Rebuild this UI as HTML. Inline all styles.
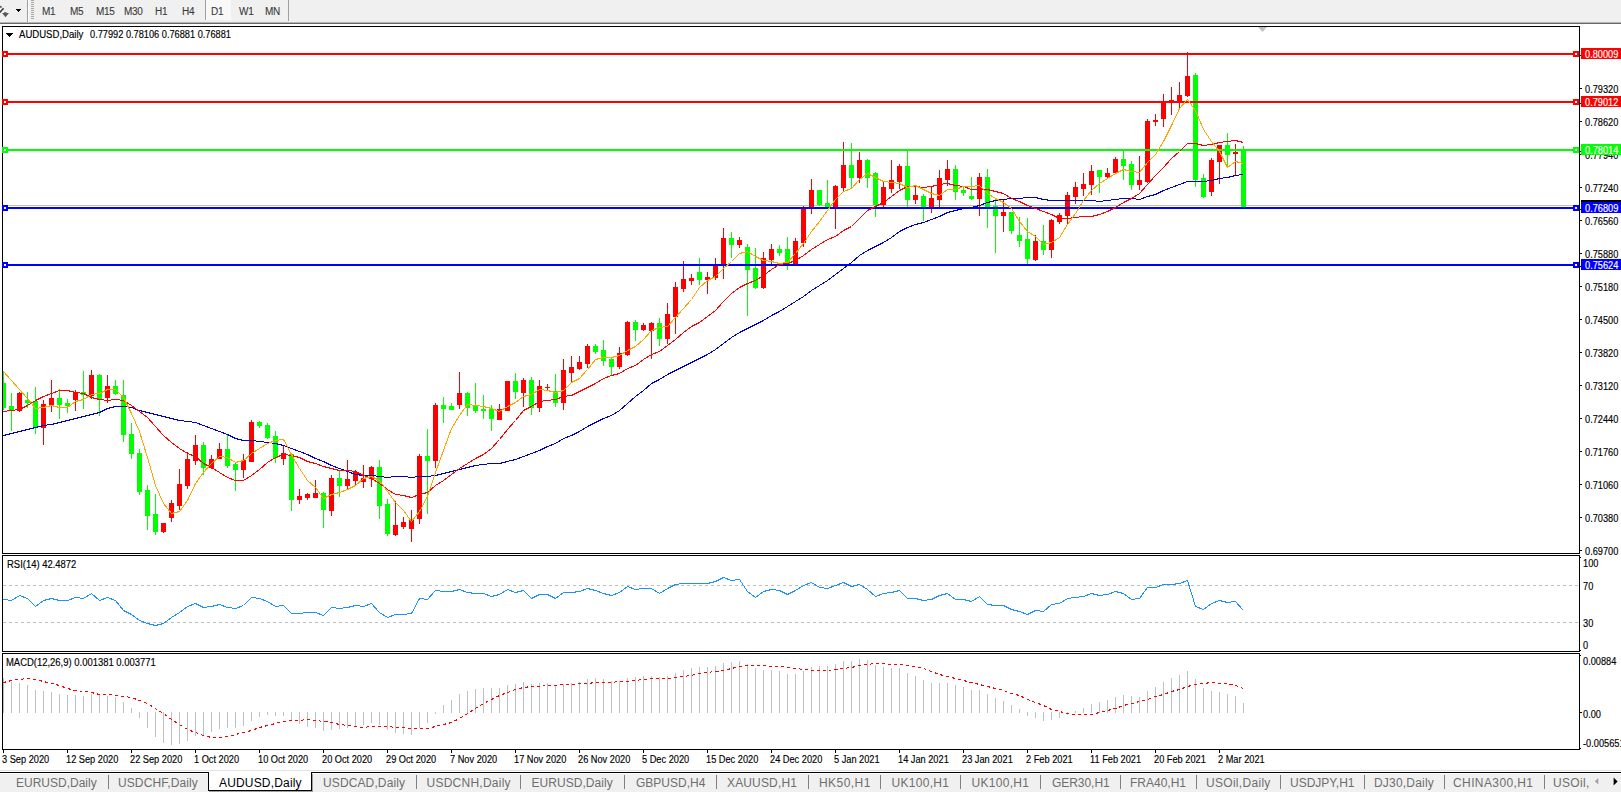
<!DOCTYPE html>
<html><head><meta charset="utf-8"><title>AUDUSD,Daily</title><style>
html,body{margin:0;padding:0;background:#fff;}
body{width:1621px;height:793px;position:relative;overflow:hidden;font-family:"Liberation Sans",sans-serif;}
span{position:absolute;white-space:nowrap;line-height:1;-webkit-text-stroke:0.3px currentColor;}
.tb{font-size:10px;color:#3a3a3a;letter-spacing:-0.3px;-webkit-text-stroke:0.1px currentColor;}
.ct{font-size:10px;color:#000;transform:scaleX(.922);transform-origin:0 0;-webkit-text-stroke:0.15px currentColor;}
.ax{font-size:10px;color:#000;height:12px;line-height:12px;-webkit-text-stroke:0.15px currentColor;transform:scaleX(.922);transform-origin:0 0;}
.lb{position:absolute;left:1581px;width:40px;height:11px;overflow:hidden;}
.tab{font-size:12px;color:#6e6e6e;height:14px;line-height:14px;-webkit-text-stroke:0;}
.tab.act{color:#000;}
</style></head><body>
<svg width="1621" height="793" viewBox="0 0 1621 793" shape-rendering="crispEdges" style="position:absolute;left:0;top:0">
<defs><clipPath id="cm"><rect x="3" y="27" width="1576" height="526"/></clipPath><clipPath id="cr"><rect x="3" y="556" width="1576" height="95"/></clipPath><clipPath id="cd"><rect x="3" y="654" width="1576" height="95"/></clipPath></defs>
<rect x="0" y="0" width="1621" height="22" fill="#f0f0f0"/>
<rect x="0" y="22" width="1621" height="1" fill="#b4b4b4"/>
<rect x="0" y="23" width="1621" height="1" fill="#696969"/>
<rect x="27" y="0" width="1" height="22" fill="#a0a0a0"/><rect x="28" y="0" width="1" height="22" fill="#ffffff"/>
<rect x="31" y="0" width="3" height="1" fill="#a8a8a8"/>
<rect x="31" y="2" width="3" height="1" fill="#a8a8a8"/>
<rect x="31" y="4" width="3" height="1" fill="#a8a8a8"/>
<rect x="31" y="6" width="3" height="1" fill="#a8a8a8"/>
<rect x="31" y="8" width="3" height="1" fill="#a8a8a8"/>
<rect x="31" y="10" width="3" height="1" fill="#a8a8a8"/>
<rect x="31" y="12" width="3" height="1" fill="#a8a8a8"/>
<rect x="31" y="14" width="3" height="1" fill="#a8a8a8"/>
<rect x="31" y="16" width="3" height="1" fill="#a8a8a8"/>
<rect x="31" y="18" width="3" height="1" fill="#a8a8a8"/>
<rect x="205" y="0" width="1" height="20" fill="#a0a0a0"/><rect x="206" y="0" width="25" height="20" fill="#f8f8f8"/>
<rect x="288" y="0" width="1" height="21" fill="#a0a0a0"/>
<g shape-rendering="auto"><path d="M-0.5 12.6 L3.6 8.3" stroke="#3c3c3c" stroke-width="1.6" fill="none"/><path d="M-0.5 6.2 L1.6 7.3" stroke="#3c3c3c" stroke-width="1.4" fill="none"/><path d="M4 12.2 L6.6 12.2 L6.6 13 L9 13 L5.5 17.2 L2 13 L4 13 Z" fill="#5a5a5a"/></g>
<rect x="16" y="9" width="5" height="1" fill="#000"/><rect x="17" y="10" width="3" height="1" fill="#000"/><rect x="18" y="11" width="1" height="1" fill="#000"/>
<rect x="2.5" y="26.5" width="1577" height="527" fill="#fff" stroke="#000" stroke-width="1"/>
<rect x="2.5" y="555.5" width="1577" height="96" fill="#fff" stroke="#000" stroke-width="1"/>
<rect x="2.5" y="653.5" width="1577" height="96" fill="#fff" stroke="#000" stroke-width="1"/>
<path d="M1258 27 L1267 27 L1262.5 32 Z" fill="#c0c0c0" shape-rendering="auto"/>
<g clip-path="url(#cm)">
<rect x="3" y="205" width="1576" height="1" fill="#c0c0c0"/>
<rect x="3" y="372" width="1" height="38" fill="#00ff00"/><rect x="1" y="383" width="5" height="25" fill="#00ff00"/>
<rect x="11" y="393" width="1" height="38" fill="#00ff00"/><rect x="9" y="406" width="5" height="5" fill="#00ff00"/>
<rect x="19" y="392" width="1" height="20" fill="#ff0000"/><rect x="17" y="393" width="5" height="18" fill="#ff0000"/>
<rect x="27" y="392" width="1" height="16" fill="#00ff00"/><rect x="25" y="400" width="5" height="3" fill="#00ff00"/>
<rect x="35" y="387" width="1" height="47" fill="#00ff00"/><rect x="33" y="401" width="5" height="26" fill="#00ff00"/>
<rect x="43" y="400" width="1" height="45" fill="#ff0000"/><rect x="41" y="404" width="5" height="24" fill="#ff0000"/>
<rect x="51" y="380" width="1" height="32" fill="#ff0000"/><rect x="49" y="398" width="5" height="7" fill="#ff0000"/>
<rect x="59" y="389" width="1" height="30" fill="#00ff00"/><rect x="57" y="398" width="5" height="7" fill="#00ff00"/>
<rect x="67" y="399" width="1" height="14" fill="#00ff00"/><rect x="65" y="403" width="5" height="3" fill="#00ff00"/>
<rect x="75" y="390" width="1" height="21" fill="#ff0000"/><rect x="73" y="392" width="5" height="8" fill="#ff0000"/>
<rect x="83" y="371" width="1" height="38" fill="#00ff00"/><rect x="81" y="392" width="5" height="3" fill="#00ff00"/>
<rect x="91" y="370" width="1" height="29" fill="#ff0000"/><rect x="89" y="375" width="5" height="21" fill="#ff0000"/>
<rect x="99" y="374" width="1" height="42" fill="#00ff00"/><rect x="97" y="375" width="5" height="24" fill="#00ff00"/>
<rect x="107" y="375" width="1" height="28" fill="#ff0000"/><rect x="105" y="386" width="5" height="12" fill="#ff0000"/>
<rect x="115" y="380" width="1" height="15" fill="#00ff00"/><rect x="113" y="386" width="5" height="8" fill="#00ff00"/>
<rect x="123" y="380" width="1" height="62" fill="#00ff00"/><rect x="121" y="395" width="5" height="40" fill="#00ff00"/>
<rect x="131" y="423" width="1" height="36" fill="#00ff00"/><rect x="129" y="434" width="5" height="20" fill="#00ff00"/>
<rect x="139" y="449" width="1" height="46" fill="#00ff00"/><rect x="137" y="453" width="5" height="39" fill="#00ff00"/>
<rect x="147" y="485" width="1" height="45" fill="#00ff00"/><rect x="145" y="490" width="5" height="26" fill="#00ff00"/>
<rect x="155" y="494" width="1" height="41" fill="#00ff00"/><rect x="153" y="514" width="5" height="18" fill="#00ff00"/>
<rect x="163" y="523" width="1" height="10" fill="#ff0000"/><rect x="161" y="523" width="5" height="9" fill="#ff0000"/>
<rect x="171" y="500" width="1" height="22" fill="#ff0000"/><rect x="169" y="503" width="5" height="15" fill="#ff0000"/>
<rect x="179" y="469" width="1" height="41" fill="#ff0000"/><rect x="177" y="484" width="5" height="22" fill="#ff0000"/>
<rect x="187" y="452" width="1" height="37" fill="#ff0000"/><rect x="185" y="459" width="5" height="27" fill="#ff0000"/>
<rect x="195" y="435" width="1" height="30" fill="#ff0000"/><rect x="193" y="445" width="5" height="16" fill="#ff0000"/>
<rect x="203" y="442" width="1" height="33" fill="#00ff00"/><rect x="201" y="445" width="5" height="23" fill="#00ff00"/>
<rect x="211" y="455" width="1" height="14" fill="#ff0000"/><rect x="209" y="459" width="5" height="9" fill="#ff0000"/>
<rect x="219" y="443" width="1" height="16" fill="#ff0000"/><rect x="217" y="449" width="5" height="10" fill="#ff0000"/>
<rect x="227" y="435" width="1" height="33" fill="#00ff00"/><rect x="225" y="449" width="5" height="17" fill="#00ff00"/>
<rect x="235" y="462" width="1" height="29" fill="#00ff00"/><rect x="233" y="464" width="5" height="6" fill="#00ff00"/>
<rect x="243" y="454" width="1" height="24" fill="#ff0000"/><rect x="241" y="460" width="5" height="10" fill="#ff0000"/>
<rect x="251" y="420" width="1" height="42" fill="#ff0000"/><rect x="249" y="422" width="5" height="40" fill="#ff0000"/>
<rect x="259" y="421" width="1" height="7" fill="#00ff00"/><rect x="257" y="422" width="5" height="4" fill="#00ff00"/>
<rect x="267" y="423" width="1" height="16" fill="#00ff00"/><rect x="265" y="425" width="5" height="13" fill="#00ff00"/>
<rect x="275" y="431" width="1" height="32" fill="#00ff00"/><rect x="273" y="436" width="5" height="22" fill="#00ff00"/>
<rect x="283" y="445" width="1" height="20" fill="#ff0000"/><rect x="281" y="453" width="5" height="6" fill="#ff0000"/>
<rect x="291" y="453" width="1" height="58" fill="#00ff00"/><rect x="289" y="454" width="5" height="46" fill="#00ff00"/>
<rect x="299" y="489" width="1" height="15" fill="#ff0000"/><rect x="297" y="496" width="5" height="4" fill="#ff0000"/>
<rect x="307" y="493" width="1" height="7" fill="#ff0000"/><rect x="305" y="494" width="5" height="4" fill="#ff0000"/>
<rect x="315" y="480" width="1" height="18" fill="#ff0000"/><rect x="313" y="493" width="5" height="5" fill="#ff0000"/>
<rect x="323" y="492" width="1" height="36" fill="#00ff00"/><rect x="321" y="493" width="5" height="17" fill="#00ff00"/>
<rect x="331" y="475" width="1" height="41" fill="#ff0000"/><rect x="329" y="478" width="5" height="33" fill="#ff0000"/>
<rect x="339" y="470" width="1" height="27" fill="#00ff00"/><rect x="337" y="478" width="5" height="8" fill="#00ff00"/>
<rect x="347" y="460" width="1" height="29" fill="#ff0000"/><rect x="345" y="479" width="5" height="7" fill="#ff0000"/>
<rect x="355" y="470" width="1" height="15" fill="#ff0000"/><rect x="353" y="472" width="5" height="9" fill="#ff0000"/>
<rect x="363" y="465" width="1" height="23" fill="#ff0000"/><rect x="361" y="478" width="5" height="4" fill="#ff0000"/>
<rect x="371" y="466" width="1" height="21" fill="#ff0000"/><rect x="369" y="467" width="5" height="12" fill="#ff0000"/>
<rect x="379" y="460" width="1" height="59" fill="#00ff00"/><rect x="377" y="467" width="5" height="39" fill="#00ff00"/>
<rect x="387" y="499" width="1" height="37" fill="#00ff00"/><rect x="385" y="504" width="5" height="30" fill="#00ff00"/>
<rect x="395" y="501" width="1" height="35" fill="#ff0000"/><rect x="393" y="525" width="5" height="10" fill="#ff0000"/>
<rect x="403" y="517" width="1" height="12" fill="#ff0000"/><rect x="401" y="522" width="5" height="5" fill="#ff0000"/>
<rect x="411" y="510" width="1" height="32" fill="#ff0000"/><rect x="409" y="519" width="5" height="10" fill="#ff0000"/>
<rect x="419" y="454" width="1" height="70" fill="#ff0000"/><rect x="417" y="456" width="5" height="63" fill="#ff0000"/>
<rect x="427" y="429" width="1" height="85" fill="#00ff00"/><rect x="425" y="456" width="5" height="5" fill="#00ff00"/>
<rect x="435" y="403" width="1" height="65" fill="#ff0000"/><rect x="433" y="405" width="5" height="56" fill="#ff0000"/>
<rect x="443" y="397" width="1" height="26" fill="#00ff00"/><rect x="441" y="405" width="5" height="4" fill="#00ff00"/>
<rect x="451" y="403" width="1" height="7" fill="#00ff00"/><rect x="449" y="406" width="5" height="4" fill="#00ff00"/>
<rect x="459" y="372" width="1" height="37" fill="#ff0000"/><rect x="457" y="393" width="5" height="12" fill="#ff0000"/>
<rect x="467" y="392" width="1" height="24" fill="#00ff00"/><rect x="465" y="393" width="5" height="15" fill="#00ff00"/>
<rect x="475" y="383" width="1" height="30" fill="#00ff00"/><rect x="473" y="406" width="5" height="5" fill="#00ff00"/>
<rect x="483" y="395" width="1" height="24" fill="#00ff00"/><rect x="481" y="409" width="5" height="2" fill="#00ff00"/>
<rect x="491" y="405" width="1" height="26" fill="#00ff00"/><rect x="489" y="409" width="5" height="10" fill="#00ff00"/>
<rect x="499" y="404" width="1" height="16" fill="#ff0000"/><rect x="497" y="409" width="5" height="11" fill="#ff0000"/>
<rect x="507" y="381" width="1" height="30" fill="#ff0000"/><rect x="505" y="381" width="5" height="30" fill="#ff0000"/>
<rect x="515" y="373" width="1" height="26" fill="#00ff00"/><rect x="513" y="381" width="5" height="11" fill="#00ff00"/>
<rect x="523" y="378" width="1" height="29" fill="#ff0000"/><rect x="521" y="380" width="5" height="13" fill="#ff0000"/>
<rect x="531" y="377" width="1" height="38" fill="#00ff00"/><rect x="529" y="380" width="5" height="28" fill="#00ff00"/>
<rect x="539" y="380" width="1" height="32" fill="#ff0000"/><rect x="537" y="386" width="5" height="22" fill="#ff0000"/>
<rect x="547" y="384" width="1" height="7" fill="#ff0000"/><rect x="545" y="387" width="5" height="1" fill="#ff0000"/>
<rect x="555" y="374" width="1" height="33" fill="#00ff00"/><rect x="553" y="391" width="5" height="12" fill="#00ff00"/>
<rect x="563" y="359" width="1" height="51" fill="#ff0000"/><rect x="561" y="370" width="5" height="33" fill="#ff0000"/>
<rect x="571" y="356" width="1" height="26" fill="#ff0000"/><rect x="569" y="367" width="5" height="6" fill="#ff0000"/>
<rect x="579" y="356" width="1" height="14" fill="#ff0000"/><rect x="577" y="362" width="5" height="7" fill="#ff0000"/>
<rect x="587" y="344" width="1" height="24" fill="#ff0000"/><rect x="585" y="346" width="5" height="18" fill="#ff0000"/>
<rect x="595" y="344" width="1" height="10" fill="#00ff00"/><rect x="593" y="346" width="5" height="6" fill="#00ff00"/>
<rect x="603" y="340" width="1" height="26" fill="#00ff00"/><rect x="601" y="350" width="5" height="11" fill="#00ff00"/>
<rect x="611" y="357" width="1" height="18" fill="#00ff00"/><rect x="609" y="359" width="5" height="8" fill="#00ff00"/>
<rect x="619" y="347" width="1" height="22" fill="#ff0000"/><rect x="617" y="353" width="5" height="14" fill="#ff0000"/>
<rect x="627" y="321" width="1" height="35" fill="#ff0000"/><rect x="625" y="322" width="5" height="33" fill="#ff0000"/>
<rect x="635" y="320" width="1" height="21" fill="#00ff00"/><rect x="633" y="322" width="5" height="8" fill="#00ff00"/>
<rect x="643" y="323" width="1" height="8" fill="#ff0000"/><rect x="641" y="325" width="5" height="5" fill="#ff0000"/>
<rect x="651" y="322" width="1" height="37" fill="#ff0000"/><rect x="649" y="323" width="5" height="8" fill="#ff0000"/>
<rect x="659" y="318" width="1" height="28" fill="#00ff00"/><rect x="657" y="323" width="5" height="16" fill="#00ff00"/>
<rect x="667" y="303" width="1" height="41" fill="#ff0000"/><rect x="665" y="314" width="5" height="25" fill="#ff0000"/>
<rect x="675" y="282" width="1" height="52" fill="#ff0000"/><rect x="673" y="287" width="5" height="30" fill="#ff0000"/>
<rect x="683" y="261" width="1" height="31" fill="#ff0000"/><rect x="681" y="279" width="5" height="10" fill="#ff0000"/>
<rect x="691" y="274" width="1" height="11" fill="#ff0000"/><rect x="689" y="278" width="5" height="3" fill="#ff0000"/>
<rect x="699" y="258" width="1" height="27" fill="#00ff00"/><rect x="697" y="272" width="5" height="8" fill="#00ff00"/>
<rect x="707" y="272" width="1" height="22" fill="#ff0000"/><rect x="705" y="277" width="5" height="3" fill="#ff0000"/>
<rect x="715" y="258" width="1" height="22" fill="#ff0000"/><rect x="713" y="266" width="5" height="12" fill="#ff0000"/>
<rect x="723" y="228" width="1" height="51" fill="#ff0000"/><rect x="721" y="238" width="5" height="28" fill="#ff0000"/>
<rect x="731" y="232" width="1" height="26" fill="#00ff00"/><rect x="729" y="238" width="5" height="7" fill="#00ff00"/>
<rect x="739" y="237" width="1" height="11" fill="#ff0000"/><rect x="737" y="240" width="5" height="5" fill="#ff0000"/>
<rect x="747" y="244" width="1" height="72" fill="#00ff00"/><rect x="745" y="247" width="5" height="23" fill="#00ff00"/>
<rect x="755" y="248" width="1" height="41" fill="#00ff00"/><rect x="753" y="268" width="5" height="20" fill="#00ff00"/>
<rect x="763" y="252" width="1" height="37" fill="#ff0000"/><rect x="761" y="258" width="5" height="30" fill="#ff0000"/>
<rect x="771" y="244" width="1" height="20" fill="#ff0000"/><rect x="769" y="249" width="5" height="11" fill="#ff0000"/>
<rect x="779" y="245" width="1" height="11" fill="#00ff00"/><rect x="777" y="249" width="5" height="4" fill="#00ff00"/>
<rect x="787" y="237" width="1" height="33" fill="#00ff00"/><rect x="785" y="249" width="5" height="16" fill="#00ff00"/>
<rect x="795" y="238" width="1" height="28" fill="#ff0000"/><rect x="793" y="241" width="5" height="25" fill="#ff0000"/>
<rect x="803" y="206" width="1" height="41" fill="#ff0000"/><rect x="801" y="208" width="5" height="35" fill="#ff0000"/>
<rect x="811" y="179" width="1" height="35" fill="#ff0000"/><rect x="809" y="190" width="5" height="18" fill="#ff0000"/>
<rect x="819" y="190" width="1" height="16" fill="#00ff00"/><rect x="817" y="190" width="5" height="15" fill="#00ff00"/>
<rect x="827" y="180" width="1" height="29" fill="#00ff00"/><rect x="825" y="203" width="5" height="6" fill="#00ff00"/>
<rect x="835" y="185" width="1" height="44" fill="#ff0000"/><rect x="833" y="186" width="5" height="22" fill="#ff0000"/>
<rect x="843" y="142" width="1" height="49" fill="#ff0000"/><rect x="841" y="165" width="5" height="23" fill="#ff0000"/>
<rect x="851" y="143" width="1" height="46" fill="#00ff00"/><rect x="849" y="165" width="5" height="13" fill="#00ff00"/>
<rect x="859" y="152" width="1" height="31" fill="#ff0000"/><rect x="857" y="160" width="5" height="18" fill="#ff0000"/>
<rect x="867" y="159" width="1" height="29" fill="#00ff00"/><rect x="865" y="160" width="5" height="18" fill="#00ff00"/>
<rect x="875" y="172" width="1" height="45" fill="#00ff00"/><rect x="873" y="173" width="5" height="32" fill="#00ff00"/>
<rect x="883" y="181" width="1" height="27" fill="#ff0000"/><rect x="881" y="187" width="5" height="18" fill="#ff0000"/>
<rect x="891" y="160" width="1" height="33" fill="#ff0000"/><rect x="889" y="180" width="5" height="9" fill="#ff0000"/>
<rect x="899" y="164" width="1" height="25" fill="#ff0000"/><rect x="897" y="166" width="5" height="16" fill="#ff0000"/>
<rect x="907" y="150" width="1" height="58" fill="#00ff00"/><rect x="905" y="166" width="5" height="34" fill="#00ff00"/>
<rect x="915" y="186" width="1" height="18" fill="#ff0000"/><rect x="913" y="195" width="5" height="5" fill="#ff0000"/>
<rect x="923" y="194" width="1" height="27" fill="#00ff00"/><rect x="921" y="196" width="5" height="12" fill="#00ff00"/>
<rect x="931" y="187" width="1" height="26" fill="#ff0000"/><rect x="929" y="198" width="5" height="10" fill="#ff0000"/>
<rect x="939" y="170" width="1" height="37" fill="#ff0000"/><rect x="937" y="178" width="5" height="22" fill="#ff0000"/>
<rect x="947" y="160" width="1" height="26" fill="#ff0000"/><rect x="945" y="169" width="5" height="11" fill="#ff0000"/>
<rect x="955" y="165" width="1" height="35" fill="#00ff00"/><rect x="953" y="169" width="5" height="23" fill="#00ff00"/>
<rect x="963" y="187" width="1" height="9" fill="#00ff00"/><rect x="961" y="190" width="5" height="3" fill="#00ff00"/>
<rect x="971" y="177" width="1" height="23" fill="#00ff00"/><rect x="969" y="196" width="5" height="3" fill="#00ff00"/>
<rect x="979" y="173" width="1" height="43" fill="#ff0000"/><rect x="977" y="177" width="5" height="22" fill="#ff0000"/>
<rect x="987" y="169" width="1" height="59" fill="#00ff00"/><rect x="985" y="177" width="5" height="31" fill="#00ff00"/>
<rect x="995" y="199" width="1" height="54" fill="#00ff00"/><rect x="993" y="206" width="5" height="10" fill="#00ff00"/>
<rect x="1003" y="199" width="1" height="33" fill="#ff0000"/><rect x="1001" y="212" width="5" height="4" fill="#ff0000"/>
<rect x="1011" y="212" width="1" height="22" fill="#00ff00"/><rect x="1009" y="212" width="5" height="19" fill="#00ff00"/>
<rect x="1019" y="217" width="1" height="30" fill="#00ff00"/><rect x="1017" y="235" width="5" height="6" fill="#00ff00"/>
<rect x="1027" y="218" width="1" height="47" fill="#00ff00"/><rect x="1025" y="239" width="5" height="20" fill="#00ff00"/>
<rect x="1035" y="235" width="1" height="26" fill="#ff0000"/><rect x="1033" y="241" width="5" height="19" fill="#ff0000"/>
<rect x="1043" y="225" width="1" height="30" fill="#00ff00"/><rect x="1041" y="241" width="5" height="9" fill="#00ff00"/>
<rect x="1051" y="219" width="1" height="39" fill="#ff0000"/><rect x="1049" y="220" width="5" height="30" fill="#ff0000"/>
<rect x="1059" y="213" width="1" height="11" fill="#ff0000"/><rect x="1057" y="215" width="5" height="7" fill="#ff0000"/>
<rect x="1067" y="192" width="1" height="33" fill="#ff0000"/><rect x="1065" y="195" width="5" height="21" fill="#ff0000"/>
<rect x="1075" y="182" width="1" height="22" fill="#ff0000"/><rect x="1073" y="187" width="5" height="10" fill="#ff0000"/>
<rect x="1083" y="173" width="1" height="23" fill="#ff0000"/><rect x="1081" y="184" width="5" height="5" fill="#ff0000"/>
<rect x="1091" y="165" width="1" height="30" fill="#ff0000"/><rect x="1089" y="171" width="5" height="14" fill="#ff0000"/>
<rect x="1099" y="170" width="1" height="23" fill="#00ff00"/><rect x="1097" y="170" width="5" height="7" fill="#00ff00"/>
<rect x="1107" y="168" width="1" height="11" fill="#ff0000"/><rect x="1105" y="173" width="5" height="4" fill="#ff0000"/>
<rect x="1115" y="157" width="1" height="16" fill="#ff0000"/><rect x="1113" y="159" width="5" height="14" fill="#ff0000"/>
<rect x="1123" y="150" width="1" height="30" fill="#00ff00"/><rect x="1121" y="159" width="5" height="7" fill="#00ff00"/>
<rect x="1131" y="161" width="1" height="29" fill="#00ff00"/><rect x="1129" y="164" width="5" height="21" fill="#00ff00"/>
<rect x="1139" y="156" width="1" height="34" fill="#ff0000"/><rect x="1137" y="180" width="5" height="5" fill="#ff0000"/>
<rect x="1147" y="119" width="1" height="64" fill="#ff0000"/><rect x="1145" y="121" width="5" height="61" fill="#ff0000"/>
<rect x="1155" y="114" width="1" height="12" fill="#ff0000"/><rect x="1153" y="120" width="5" height="2" fill="#ff0000"/>
<rect x="1163" y="94" width="1" height="33" fill="#ff0000"/><rect x="1161" y="102" width="5" height="17" fill="#ff0000"/>
<rect x="1171" y="87" width="1" height="28" fill="#ff0000"/><rect x="1169" y="100" width="5" height="3" fill="#ff0000"/>
<rect x="1179" y="82" width="1" height="26" fill="#ff0000"/><rect x="1177" y="95" width="5" height="8" fill="#ff0000"/>
<rect x="1187" y="52" width="1" height="45" fill="#ff0000"/><rect x="1185" y="76" width="5" height="20" fill="#ff0000"/>
<rect x="1195" y="73" width="1" height="114" fill="#00ff00"/><rect x="1193" y="75" width="5" height="105" fill="#00ff00"/>
<rect x="1203" y="174" width="1" height="24" fill="#00ff00"/><rect x="1201" y="178" width="5" height="19" fill="#00ff00"/>
<rect x="1211" y="158" width="1" height="38" fill="#ff0000"/><rect x="1209" y="160" width="5" height="32" fill="#ff0000"/>
<rect x="1219" y="145" width="1" height="39" fill="#ff0000"/><rect x="1217" y="145" width="5" height="17" fill="#ff0000"/>
<rect x="1227" y="133" width="1" height="35" fill="#00ff00"/><rect x="1225" y="145" width="5" height="10" fill="#00ff00"/>
<rect x="1235" y="144" width="1" height="32" fill="#ff0000"/><rect x="1233" y="152" width="5" height="2" fill="#ff0000"/>
<rect x="1243" y="146" width="1" height="61" fill="#00ff00"/><rect x="1241" y="149" width="5" height="58" fill="#00ff00"/>
<rect x="3" y="53" width="1576" height="2" fill="#ff0000"/>
<rect x="3" y="101" width="1576" height="2" fill="#ff0000"/>
<rect x="3" y="149" width="1576" height="2" fill="#00ff00"/>
<rect x="3" y="207" width="1576" height="2" fill="#0000ff"/>
<rect x="3" y="264" width="1576" height="2" fill="#0000ff"/>
<polyline points="3.5,435.5 11.5,433.5 19.5,431.5 27.5,429.5 35.5,427.5 43.5,425.5 51.5,424.5 59.5,422.5 67.5,420.5 75.5,418.5 83.5,416.5 91.5,414.5 99.5,412.5 107.5,408.5 115.5,406.5 123.5,406.5 131.5,407.5 139.5,410.5 147.5,412.5 155.5,414.5 163.5,416.5 171.5,418.5 179.5,420.5 187.5,421.5 195.5,422.5 203.5,425.5 211.5,428.5 219.5,431.5 227.5,434.5 235.5,438.5 243.5,440.5 251.5,440.5 259.5,441.5 267.5,442.5 275.5,443.5 283.5,445.5 291.5,448.5 299.5,451.5 307.5,454.5 315.5,458.5 323.5,461.5 331.5,465.5 339.5,468.5 347.5,471.5 355.5,474.5 363.5,475.5 371.5,475.5 379.5,476.5 387.5,477.5 395.5,476.5 403.5,476.5 411.5,477.5 419.5,476.5 427.5,476.5 435.5,475.5 443.5,473.5 451.5,471.5 459.5,469.5 467.5,467.5 475.5,465.5 483.5,464.5 491.5,463.5 499.5,463.5 507.5,461.5 515.5,459.5 523.5,456.5 531.5,453.5 539.5,450.5 547.5,446.5 555.5,443.5 563.5,438.5 571.5,435.5 579.5,431.5 587.5,426.5 595.5,422.5 603.5,418.5 611.5,415.5 619.5,410.5 627.5,403.5 635.5,396.5 643.5,390.5 651.5,383.5 659.5,379.5 667.5,374.5 675.5,370.5 683.5,366.5 691.5,362.5 699.5,358.5 707.5,354.5 715.5,349.5 723.5,343.5 731.5,337.5 739.5,332.5 747.5,328.5 755.5,324.5 763.5,320.5 771.5,315.5 779.5,311.5 787.5,306.5 795.5,301.5 803.5,296.5 811.5,290.5 819.5,285.5 827.5,280.5 835.5,274.5 843.5,268.5 851.5,262.5 859.5,255.5 867.5,250.5 875.5,246.5 883.5,242.5 891.5,237.5 899.5,231.5 907.5,227.5 915.5,224.5 923.5,222.5 931.5,219.5 939.5,216.5 947.5,212.5 955.5,210.5 963.5,208.5 971.5,207.5 979.5,205.5 987.5,202.5 995.5,200.5 1003.5,199.5 1011.5,198.5 1019.5,198.5 1027.5,197.5 1035.5,197.5 1043.5,199.5 1051.5,200.5 1059.5,200.5 1067.5,200.5 1075.5,200.5 1083.5,200.5 1091.5,200.5 1099.5,201.5 1107.5,200.5 1115.5,199.5 1123.5,198.5 1131.5,198.5 1139.5,199.5 1147.5,196.5 1155.5,194.5 1163.5,190.5 1171.5,187.5 1179.5,184.5 1187.5,181.5 1195.5,181.5 1203.5,181.5 1211.5,180.5 1219.5,178.5 1227.5,177.5 1235.5,175.5 1243.5,174.5" fill="none" stroke="#0000cd" stroke-width="1" />
<polyline points="3.5,411.5 11.5,410.5 19.5,409.5 27.5,405.5 35.5,400.5 43.5,396.5 51.5,393.5 59.5,390.5 67.5,390.5 75.5,392.5 83.5,393.5 91.5,397.5 99.5,399.5 107.5,400.5 115.5,399.5 123.5,400.5 131.5,405.5 139.5,411.5 147.5,417.5 155.5,426.5 163.5,435.5 171.5,442.5 179.5,448.5 187.5,453.5 195.5,456.5 203.5,463.5 211.5,467.5 219.5,472.5 227.5,477.5 235.5,480.5 243.5,480.5 251.5,475.5 259.5,469.5 267.5,462.5 275.5,457.5 283.5,454.5 291.5,455.5 299.5,457.5 307.5,461.5 315.5,463.5 323.5,466.5 331.5,468.5 339.5,470.5 347.5,470.5 355.5,471.5 363.5,475.5 371.5,478.5 379.5,483.5 387.5,489.5 395.5,494.5 403.5,495.5 411.5,497.5 419.5,494.5 427.5,492.5 435.5,485.5 443.5,480.5 451.5,474.5 459.5,468.5 467.5,463.5 475.5,458.5 483.5,454.5 491.5,448.5 499.5,439.5 507.5,429.5 515.5,420.5 523.5,410.5 531.5,406.5 539.5,401.5 547.5,400.5 555.5,399.5 563.5,396.5 571.5,395.5 579.5,391.5 587.5,387.5 595.5,383.5 603.5,378.5 611.5,375.5 619.5,373.5 627.5,368.5 635.5,365.5 643.5,359.5 651.5,354.5 659.5,351.5 667.5,345.5 675.5,339.5 683.5,332.5 691.5,326.5 699.5,322.5 707.5,316.5 715.5,310.5 723.5,301.5 731.5,293.5 739.5,287.5 747.5,283.5 755.5,280.5 763.5,275.5 771.5,269.5 779.5,264.5 787.5,263.5 795.5,260.5 803.5,255.5 811.5,249.5 819.5,244.5 827.5,239.5 835.5,236.5 843.5,230.5 851.5,226.5 859.5,218.5 867.5,210.5 875.5,206.5 883.5,202.5 891.5,196.5 899.5,190.5 907.5,186.5 915.5,186.5 923.5,187.5 931.5,186.5 939.5,184.5 947.5,183.5 955.5,185.5 963.5,186.5 971.5,189.5 979.5,189.5 987.5,189.5 995.5,191.5 1003.5,193.5 1011.5,198.5 1019.5,201.5 1027.5,205.5 1035.5,208.5 1043.5,211.5 1051.5,214.5 1059.5,218.5 1067.5,218.5 1075.5,217.5 1083.5,216.5 1091.5,216.5 1099.5,214.5 1107.5,211.5 1115.5,207.5 1123.5,202.5 1131.5,198.5 1139.5,193.5 1147.5,184.5 1155.5,175.5 1163.5,167.5 1171.5,158.5 1179.5,151.5 1187.5,143.5 1195.5,143.5 1203.5,145.5 1211.5,144.5 1219.5,142.5 1227.5,141.5 1235.5,140.5 1243.5,142.5" fill="none" stroke="#ff0000" stroke-width="1" />
<polyline points="3.5,371.5 11.5,380.5 19.5,389.5 27.5,398.5 35.5,408.5 43.5,407.5 51.5,405.5 59.5,407.5 67.5,407.5 75.5,401.5 83.5,399.5 91.5,394.5 99.5,393.5 107.5,389.5 115.5,389.5 123.5,397.5 131.5,413.5 139.5,431.5 147.5,457.5 155.5,485.5 163.5,503.5 171.5,513.5 179.5,511.5 187.5,500.5 195.5,483.5 203.5,472.5 211.5,463.5 219.5,456.5 227.5,457.5 235.5,462.5 243.5,460.5 251.5,453.5 259.5,448.5 267.5,443.5 275.5,440.5 283.5,439.5 291.5,454.5 299.5,468.5 307.5,480.5 315.5,487.5 323.5,498.5 331.5,494.5 339.5,492.5 347.5,489.5 355.5,485.5 363.5,478.5 371.5,476.5 379.5,480.5 387.5,491.5 395.5,502.5 403.5,510.5 411.5,521.5 419.5,511.5 427.5,496.5 435.5,472.5 443.5,450.5 451.5,428.5 459.5,415.5 467.5,404.5 475.5,405.5 483.5,406.5 491.5,408.5 499.5,411.5 507.5,406.5 515.5,402.5 523.5,396.5 531.5,394.5 539.5,389.5 547.5,390.5 555.5,392.5 563.5,390.5 571.5,382.5 579.5,378.5 587.5,369.5 595.5,359.5 603.5,357.5 611.5,357.5 619.5,355.5 627.5,350.5 635.5,346.5 643.5,339.5 651.5,330.5 659.5,327.5 667.5,326.5 675.5,317.5 683.5,308.5 691.5,299.5 699.5,287.5 707.5,280.5 715.5,276.5 723.5,268.5 731.5,261.5 739.5,253.5 747.5,251.5 755.5,256.5 763.5,260.5 771.5,261.5 779.5,263.5 787.5,262.5 795.5,253.5 803.5,243.5 811.5,231.5 819.5,221.5 827.5,210.5 835.5,199.5 843.5,191.5 851.5,188.5 859.5,179.5 867.5,173.5 875.5,177.5 883.5,181.5 891.5,182.5 899.5,183.5 907.5,187.5 915.5,185.5 923.5,189.5 931.5,193.5 939.5,195.5 947.5,189.5 955.5,189.5 963.5,186.5 971.5,186.5 979.5,185.5 987.5,193.5 995.5,198.5 1003.5,202.5 1011.5,208.5 1019.5,221.5 1027.5,231.5 1035.5,236.5 1043.5,244.5 1051.5,242.5 1059.5,237.5 1067.5,224.5 1075.5,213.5 1083.5,200.5 1091.5,190.5 1099.5,183.5 1107.5,178.5 1115.5,173.5 1123.5,169.5 1131.5,171.5 1139.5,172.5 1147.5,162.5 1155.5,154.5 1163.5,141.5 1171.5,125.5 1179.5,108.5 1187.5,99.5 1195.5,110.5 1203.5,129.5 1211.5,141.5 1219.5,151.5 1227.5,167.5 1235.5,161.5 1243.5,163.5" fill="none" stroke="#ffa500" stroke-width="1" />
</g>
<rect x="2" y="51" width="6" height="6" fill="#ff0000"/><rect x="4" y="53" width="2" height="2" fill="#fff"/>
<rect x="1573" y="51" width="6" height="6" fill="#ff0000"/><rect x="1575" y="53" width="2" height="2" fill="#fff"/>
<rect x="2" y="99" width="6" height="6" fill="#ff0000"/><rect x="4" y="101" width="2" height="2" fill="#fff"/>
<rect x="1573" y="99" width="6" height="6" fill="#ff0000"/><rect x="1575" y="101" width="2" height="2" fill="#fff"/>
<rect x="2" y="147" width="6" height="6" fill="#00ff00"/><rect x="4" y="149" width="2" height="2" fill="#fff"/>
<rect x="1573" y="147" width="6" height="6" fill="#00ff00"/><rect x="1575" y="149" width="2" height="2" fill="#fff"/>
<rect x="2" y="205" width="6" height="6" fill="#0000ff"/><rect x="4" y="207" width="2" height="2" fill="#fff"/>
<rect x="1573" y="205" width="6" height="6" fill="#0000ff"/><rect x="1575" y="207" width="2" height="2" fill="#fff"/>
<rect x="2" y="262" width="6" height="6" fill="#0000ff"/><rect x="4" y="264" width="2" height="2" fill="#fff"/>
<rect x="1573" y="262" width="6" height="6" fill="#0000ff"/><rect x="1575" y="264" width="2" height="2" fill="#fff"/>
<rect x="1580" y="88" width="2" height="1" fill="#000"/>
<rect x="1580" y="121" width="2" height="1" fill="#000"/>
<rect x="1580" y="154" width="2" height="1" fill="#000"/>
<rect x="1580" y="187" width="2" height="1" fill="#000"/>
<rect x="1580" y="220" width="2" height="1" fill="#000"/>
<rect x="1580" y="253" width="2" height="1" fill="#000"/>
<rect x="1580" y="286" width="2" height="1" fill="#000"/>
<rect x="1580" y="319" width="2" height="1" fill="#000"/>
<rect x="1580" y="352" width="2" height="1" fill="#000"/>
<rect x="1580" y="385" width="2" height="1" fill="#000"/>
<rect x="1580" y="418" width="2" height="1" fill="#000"/>
<rect x="1580" y="451" width="2" height="1" fill="#000"/>
<rect x="1580" y="484" width="2" height="1" fill="#000"/>
<rect x="1580" y="517" width="2" height="1" fill="#000"/>
<rect x="1580" y="550" width="2" height="1" fill="#000"/>
<rect x="1580" y="55" width="1" height="1" fill="#000"/>
<rect x="1580" y="103" width="1" height="1" fill="#000"/>
<rect x="1580" y="151" width="1" height="1" fill="#000"/>
<rect x="1580" y="209" width="1" height="1" fill="#000"/>
<rect x="1580" y="266" width="1" height="1" fill="#000"/>
<g clip-path="url(#cr)">
<line x1="3" y1="585.5" x2="1579" y2="585.5" stroke="#c0c0c0" stroke-width="1" stroke-dasharray="3 3"/>
<line x1="3" y1="622.5" x2="1579" y2="622.5" stroke="#c0c0c0" stroke-width="1" stroke-dasharray="3 3"/>
<polyline points="3.5,599.5 11.5,600.5 19.5,595.5 27.5,598.5 35.5,606.5 43.5,600.5 51.5,598.5 59.5,600.5 67.5,600.5 75.5,597.5 83.5,598.5 91.5,593.5 99.5,600.5 107.5,597.5 115.5,600.5 123.5,610.5 131.5,614.5 139.5,620.5 147.5,623.5 155.5,625.5 163.5,623.5 171.5,617.5 179.5,612.5 187.5,606.5 195.5,603.5 203.5,607.5 211.5,606.5 219.5,604.5 227.5,607.5 235.5,608.5 243.5,605.5 251.5,597.5 259.5,598.5 267.5,601.5 275.5,606.5 283.5,605.5 291.5,613.5 299.5,613.5 307.5,612.5 315.5,612.5 323.5,615.5 331.5,607.5 339.5,608.5 347.5,607.5 355.5,605.5 363.5,606.5 371.5,603.5 379.5,612.5 387.5,617.5 395.5,614.5 403.5,614.5 411.5,613.5 419.5,598.5 427.5,599.5 435.5,590.5 443.5,591.5 451.5,591.5 459.5,589.5 467.5,592.5 475.5,593.5 483.5,593.5 491.5,596.5 499.5,594.5 507.5,589.5 515.5,592.5 523.5,590.5 531.5,598.5 539.5,594.5 547.5,594.5 555.5,598.5 563.5,592.5 571.5,592.5 579.5,591.5 587.5,588.5 595.5,590.5 603.5,593.5 611.5,595.5 619.5,592.5 627.5,586.5 635.5,589.5 643.5,588.5 651.5,588.5 659.5,593.5 667.5,588.5 675.5,584.5 683.5,583.5 691.5,583.5 699.5,583.5 707.5,583.5 715.5,581.5 723.5,577.5 731.5,580.5 739.5,579.5 747.5,591.5 755.5,597.5 763.5,591.5 771.5,589.5 779.5,590.5 787.5,594.5 795.5,590.5 803.5,585.5 811.5,582.5 819.5,587.5 827.5,588.5 835.5,585.5 843.5,582.5 851.5,586.5 859.5,584.5 867.5,589.5 875.5,596.5 883.5,593.5 891.5,592.5 899.5,590.5 907.5,598.5 915.5,598.5 923.5,600.5 931.5,599.5 939.5,595.5 947.5,593.5 955.5,599.5 963.5,599.5 971.5,601.5 979.5,596.5 987.5,604.5 995.5,605.5 1003.5,605.5 1011.5,609.5 1019.5,611.5 1027.5,614.5 1035.5,610.5 1043.5,611.5 1051.5,604.5 1059.5,603.5 1067.5,598.5 1075.5,597.5 1083.5,596.5 1091.5,593.5 1099.5,595.5 1107.5,594.5 1115.5,591.5 1123.5,593.5 1131.5,599.5 1139.5,598.5 1147.5,587.5 1155.5,587.5 1163.5,584.5 1171.5,584.5 1179.5,583.5 1187.5,580.5 1195.5,606.5 1203.5,609.5 1211.5,603.5 1219.5,600.5 1227.5,602.5 1235.5,601.5 1243.5,610.5" fill="none" stroke="#1e90ff" stroke-width="1" />
</g>
<rect x="1580" y="557" width="1" height="1" fill="#000"/>
<rect x="1580" y="650" width="1" height="1" fill="#000"/>
<g clip-path="url(#cd)">
<rect x="3" y="678" width="1" height="35" fill="#c0c0c0"/>
<rect x="11" y="682" width="1" height="31" fill="#c0c0c0"/>
<rect x="19" y="683" width="1" height="30" fill="#c0c0c0"/>
<rect x="27" y="685" width="1" height="28" fill="#c0c0c0"/>
<rect x="35" y="690" width="1" height="23" fill="#c0c0c0"/>
<rect x="43" y="691" width="1" height="22" fill="#c0c0c0"/>
<rect x="51" y="692" width="1" height="21" fill="#c0c0c0"/>
<rect x="59" y="694" width="1" height="19" fill="#c0c0c0"/>
<rect x="67" y="695" width="1" height="18" fill="#c0c0c0"/>
<rect x="75" y="695" width="1" height="18" fill="#c0c0c0"/>
<rect x="83" y="696" width="1" height="17" fill="#c0c0c0"/>
<rect x="91" y="694" width="1" height="19" fill="#c0c0c0"/>
<rect x="99" y="695" width="1" height="18" fill="#c0c0c0"/>
<rect x="107" y="696" width="1" height="17" fill="#c0c0c0"/>
<rect x="115" y="697" width="1" height="16" fill="#c0c0c0"/>
<rect x="123" y="702" width="1" height="11" fill="#c0c0c0"/>
<rect x="131" y="708" width="1" height="5" fill="#c0c0c0"/>
<rect x="139" y="712" width="1" height="6" fill="#c0c0c0"/>
<rect x="147" y="712" width="1" height="16" fill="#c0c0c0"/>
<rect x="155" y="712" width="1" height="25" fill="#c0c0c0"/>
<rect x="163" y="712" width="1" height="31" fill="#c0c0c0"/>
<rect x="171" y="712" width="1" height="33" fill="#c0c0c0"/>
<rect x="179" y="712" width="1" height="32" fill="#c0c0c0"/>
<rect x="187" y="712" width="1" height="29" fill="#c0c0c0"/>
<rect x="195" y="712" width="1" height="24" fill="#c0c0c0"/>
<rect x="203" y="712" width="1" height="23" fill="#c0c0c0"/>
<rect x="211" y="712" width="1" height="20" fill="#c0c0c0"/>
<rect x="219" y="712" width="1" height="17" fill="#c0c0c0"/>
<rect x="227" y="712" width="1" height="16" fill="#c0c0c0"/>
<rect x="235" y="712" width="1" height="16" fill="#c0c0c0"/>
<rect x="243" y="712" width="1" height="14" fill="#c0c0c0"/>
<rect x="251" y="712" width="1" height="9" fill="#c0c0c0"/>
<rect x="259" y="712" width="1" height="5" fill="#c0c0c0"/>
<rect x="267" y="712" width="1" height="3" fill="#c0c0c0"/>
<rect x="275" y="712" width="1" height="4" fill="#c0c0c0"/>
<rect x="283" y="712" width="1" height="4" fill="#c0c0c0"/>
<rect x="291" y="712" width="1" height="9" fill="#c0c0c0"/>
<rect x="299" y="712" width="1" height="12" fill="#c0c0c0"/>
<rect x="307" y="712" width="1" height="15" fill="#c0c0c0"/>
<rect x="315" y="712" width="1" height="16" fill="#c0c0c0"/>
<rect x="323" y="712" width="1" height="19" fill="#c0c0c0"/>
<rect x="331" y="712" width="1" height="18" fill="#c0c0c0"/>
<rect x="339" y="712" width="1" height="17" fill="#c0c0c0"/>
<rect x="347" y="712" width="1" height="16" fill="#c0c0c0"/>
<rect x="355" y="712" width="1" height="14" fill="#c0c0c0"/>
<rect x="363" y="712" width="1" height="13" fill="#c0c0c0"/>
<rect x="371" y="712" width="1" height="11" fill="#c0c0c0"/>
<rect x="379" y="712" width="1" height="13" fill="#c0c0c0"/>
<rect x="387" y="712" width="1" height="18" fill="#c0c0c0"/>
<rect x="395" y="712" width="1" height="21" fill="#c0c0c0"/>
<rect x="403" y="712" width="1" height="22" fill="#c0c0c0"/>
<rect x="411" y="712" width="1" height="23" fill="#c0c0c0"/>
<rect x="419" y="712" width="1" height="16" fill="#c0c0c0"/>
<rect x="427" y="712" width="1" height="11" fill="#c0c0c0"/>
<rect x="435" y="712" width="1" height="2" fill="#c0c0c0"/>
<rect x="443" y="705" width="1" height="8" fill="#c0c0c0"/>
<rect x="451" y="700" width="1" height="13" fill="#c0c0c0"/>
<rect x="459" y="694" width="1" height="19" fill="#c0c0c0"/>
<rect x="467" y="691" width="1" height="22" fill="#c0c0c0"/>
<rect x="475" y="689" width="1" height="24" fill="#c0c0c0"/>
<rect x="483" y="688" width="1" height="25" fill="#c0c0c0"/>
<rect x="491" y="688" width="1" height="25" fill="#c0c0c0"/>
<rect x="499" y="688" width="1" height="25" fill="#c0c0c0"/>
<rect x="507" y="685" width="1" height="28" fill="#c0c0c0"/>
<rect x="515" y="684" width="1" height="29" fill="#c0c0c0"/>
<rect x="523" y="682" width="1" height="31" fill="#c0c0c0"/>
<rect x="531" y="684" width="1" height="29" fill="#c0c0c0"/>
<rect x="539" y="683" width="1" height="30" fill="#c0c0c0"/>
<rect x="547" y="683" width="1" height="30" fill="#c0c0c0"/>
<rect x="555" y="686" width="1" height="27" fill="#c0c0c0"/>
<rect x="563" y="684" width="1" height="29" fill="#c0c0c0"/>
<rect x="571" y="683" width="1" height="30" fill="#c0c0c0"/>
<rect x="579" y="682" width="1" height="31" fill="#c0c0c0"/>
<rect x="587" y="679" width="1" height="34" fill="#c0c0c0"/>
<rect x="595" y="678" width="1" height="35" fill="#c0c0c0"/>
<rect x="603" y="679" width="1" height="34" fill="#c0c0c0"/>
<rect x="611" y="681" width="1" height="32" fill="#c0c0c0"/>
<rect x="619" y="681" width="1" height="32" fill="#c0c0c0"/>
<rect x="627" y="678" width="1" height="35" fill="#c0c0c0"/>
<rect x="635" y="677" width="1" height="36" fill="#c0c0c0"/>
<rect x="643" y="676" width="1" height="37" fill="#c0c0c0"/>
<rect x="651" y="676" width="1" height="37" fill="#c0c0c0"/>
<rect x="659" y="677" width="1" height="36" fill="#c0c0c0"/>
<rect x="667" y="676" width="1" height="37" fill="#c0c0c0"/>
<rect x="675" y="673" width="1" height="40" fill="#c0c0c0"/>
<rect x="683" y="670" width="1" height="43" fill="#c0c0c0"/>
<rect x="691" y="668" width="1" height="45" fill="#c0c0c0"/>
<rect x="699" y="667" width="1" height="46" fill="#c0c0c0"/>
<rect x="707" y="667" width="1" height="46" fill="#c0c0c0"/>
<rect x="715" y="666" width="1" height="47" fill="#c0c0c0"/>
<rect x="723" y="663" width="1" height="50" fill="#c0c0c0"/>
<rect x="731" y="662" width="1" height="51" fill="#c0c0c0"/>
<rect x="739" y="661" width="1" height="52" fill="#c0c0c0"/>
<rect x="747" y="664" width="1" height="49" fill="#c0c0c0"/>
<rect x="755" y="668" width="1" height="45" fill="#c0c0c0"/>
<rect x="763" y="670" width="1" height="43" fill="#c0c0c0"/>
<rect x="771" y="670" width="1" height="43" fill="#c0c0c0"/>
<rect x="779" y="671" width="1" height="42" fill="#c0c0c0"/>
<rect x="787" y="674" width="1" height="39" fill="#c0c0c0"/>
<rect x="795" y="674" width="1" height="39" fill="#c0c0c0"/>
<rect x="803" y="671" width="1" height="42" fill="#c0c0c0"/>
<rect x="811" y="667" width="1" height="46" fill="#c0c0c0"/>
<rect x="819" y="666" width="1" height="47" fill="#c0c0c0"/>
<rect x="827" y="666" width="1" height="47" fill="#c0c0c0"/>
<rect x="835" y="664" width="1" height="49" fill="#c0c0c0"/>
<rect x="843" y="661" width="1" height="52" fill="#c0c0c0"/>
<rect x="851" y="661" width="1" height="52" fill="#c0c0c0"/>
<rect x="859" y="659" width="1" height="54" fill="#c0c0c0"/>
<rect x="867" y="660" width="1" height="53" fill="#c0c0c0"/>
<rect x="875" y="665" width="1" height="48" fill="#c0c0c0"/>
<rect x="883" y="667" width="1" height="46" fill="#c0c0c0"/>
<rect x="891" y="668" width="1" height="45" fill="#c0c0c0"/>
<rect x="899" y="668" width="1" height="45" fill="#c0c0c0"/>
<rect x="907" y="673" width="1" height="40" fill="#c0c0c0"/>
<rect x="915" y="676" width="1" height="37" fill="#c0c0c0"/>
<rect x="923" y="680" width="1" height="33" fill="#c0c0c0"/>
<rect x="931" y="683" width="1" height="30" fill="#c0c0c0"/>
<rect x="939" y="683" width="1" height="30" fill="#c0c0c0"/>
<rect x="947" y="683" width="1" height="30" fill="#c0c0c0"/>
<rect x="955" y="685" width="1" height="28" fill="#c0c0c0"/>
<rect x="963" y="687" width="1" height="26" fill="#c0c0c0"/>
<rect x="971" y="690" width="1" height="23" fill="#c0c0c0"/>
<rect x="979" y="690" width="1" height="23" fill="#c0c0c0"/>
<rect x="987" y="694" width="1" height="19" fill="#c0c0c0"/>
<rect x="995" y="698" width="1" height="15" fill="#c0c0c0"/>
<rect x="1003" y="701" width="1" height="12" fill="#c0c0c0"/>
<rect x="1011" y="705" width="1" height="8" fill="#c0c0c0"/>
<rect x="1019" y="709" width="1" height="4" fill="#c0c0c0"/>
<rect x="1027" y="712" width="1" height="4" fill="#c0c0c0"/>
<rect x="1035" y="712" width="1" height="6" fill="#c0c0c0"/>
<rect x="1043" y="712" width="1" height="9" fill="#c0c0c0"/>
<rect x="1051" y="712" width="1" height="8" fill="#c0c0c0"/>
<rect x="1059" y="712" width="1" height="6" fill="#c0c0c0"/>
<rect x="1067" y="712" width="1" height="3" fill="#c0c0c0"/>
<rect x="1075" y="711" width="1" height="2" fill="#c0c0c0"/>
<rect x="1083" y="708" width="1" height="5" fill="#c0c0c0"/>
<rect x="1091" y="704" width="1" height="9" fill="#c0c0c0"/>
<rect x="1099" y="702" width="1" height="11" fill="#c0c0c0"/>
<rect x="1107" y="700" width="1" height="13" fill="#c0c0c0"/>
<rect x="1115" y="697" width="1" height="16" fill="#c0c0c0"/>
<rect x="1123" y="695" width="1" height="18" fill="#c0c0c0"/>
<rect x="1131" y="696" width="1" height="17" fill="#c0c0c0"/>
<rect x="1139" y="697" width="1" height="16" fill="#c0c0c0"/>
<rect x="1147" y="691" width="1" height="22" fill="#c0c0c0"/>
<rect x="1155" y="687" width="1" height="26" fill="#c0c0c0"/>
<rect x="1163" y="682" width="1" height="31" fill="#c0c0c0"/>
<rect x="1171" y="678" width="1" height="35" fill="#c0c0c0"/>
<rect x="1179" y="675" width="1" height="38" fill="#c0c0c0"/>
<rect x="1187" y="671" width="1" height="42" fill="#c0c0c0"/>
<rect x="1195" y="679" width="1" height="34" fill="#c0c0c0"/>
<rect x="1203" y="688" width="1" height="25" fill="#c0c0c0"/>
<rect x="1211" y="691" width="1" height="22" fill="#c0c0c0"/>
<rect x="1219" y="692" width="1" height="21" fill="#c0c0c0"/>
<rect x="1227" y="694" width="1" height="19" fill="#c0c0c0"/>
<rect x="1235" y="696" width="1" height="17" fill="#c0c0c0"/>
<rect x="1243" y="703" width="1" height="10" fill="#c0c0c0"/>
<polyline points="3.5,682.5 11.5,680.5 19.5,679.5 27.5,678.5 35.5,679.5 43.5,681.5 51.5,683.5 59.5,685.5 67.5,688.5 75.5,690.5 83.5,691.5 91.5,692.5 99.5,694.5 107.5,694.5 115.5,695.5 123.5,696.5 131.5,697.5 139.5,700.5 147.5,703.5 155.5,708.5 163.5,713.5 171.5,719.5 179.5,724.5 187.5,729.5 195.5,732.5 203.5,735.5 211.5,737.5 219.5,737.5 227.5,736.5 235.5,734.5 243.5,732.5 251.5,730.5 259.5,727.5 267.5,725.5 275.5,723.5 283.5,721.5 291.5,720.5 299.5,720.5 307.5,719.5 315.5,720.5 323.5,721.5 331.5,722.5 339.5,724.5 347.5,725.5 355.5,726.5 363.5,727.5 371.5,726.5 379.5,726.5 387.5,726.5 395.5,727.5 403.5,727.5 411.5,728.5 419.5,728.5 427.5,728.5 435.5,726.5 443.5,724.5 451.5,722.5 459.5,718.5 467.5,713.5 475.5,708.5 483.5,703.5 491.5,699.5 499.5,695.5 507.5,692.5 515.5,689.5 523.5,687.5 531.5,686.5 539.5,686.5 547.5,685.5 555.5,685.5 563.5,684.5 571.5,684.5 579.5,683.5 587.5,683.5 595.5,682.5 603.5,682.5 611.5,682.5 619.5,681.5 627.5,681.5 635.5,680.5 643.5,679.5 651.5,678.5 659.5,678.5 667.5,678.5 675.5,677.5 683.5,676.5 691.5,675.5 699.5,673.5 707.5,672.5 715.5,671.5 723.5,670.5 731.5,668.5 739.5,666.5 747.5,665.5 755.5,665.5 763.5,665.5 771.5,666.5 779.5,666.5 787.5,667.5 795.5,668.5 803.5,669.5 811.5,670.5 819.5,670.5 827.5,670.5 835.5,669.5 843.5,668.5 851.5,667.5 859.5,665.5 867.5,664.5 875.5,663.5 883.5,663.5 891.5,664.5 899.5,664.5 907.5,665.5 915.5,666.5 923.5,668.5 931.5,671.5 939.5,674.5 947.5,676.5 955.5,678.5 963.5,680.5 971.5,682.5 979.5,684.5 987.5,686.5 995.5,688.5 1003.5,690.5 1011.5,693.5 1019.5,695.5 1027.5,699.5 1035.5,702.5 1043.5,705.5 1051.5,709.5 1059.5,711.5 1067.5,713.5 1075.5,714.5 1083.5,714.5 1091.5,714.5 1099.5,712.5 1107.5,710.5 1115.5,708.5 1123.5,705.5 1131.5,703.5 1139.5,701.5 1147.5,699.5 1155.5,696.5 1163.5,694.5 1171.5,691.5 1179.5,689.5 1187.5,686.5 1195.5,684.5 1203.5,683.5 1211.5,682.5 1219.5,683.5 1227.5,683.5 1235.5,685.5 1243.5,688.5" fill="none" stroke="#ff0000" stroke-width="1" stroke-dasharray="3 3"/>
</g>
<rect x="1580" y="655" width="1" height="1" fill="#000"/>
<rect x="1580" y="712" width="2" height="1" fill="#000"/>
<rect x="1580" y="748" width="1" height="1" fill="#000"/>
<rect x="3" y="750" width="1" height="3" fill="#000"/>
<rect x="67" y="750" width="1" height="3" fill="#000"/>
<rect x="131" y="750" width="1" height="3" fill="#000"/>
<rect x="195" y="750" width="1" height="3" fill="#000"/>
<rect x="259" y="750" width="1" height="3" fill="#000"/>
<rect x="323" y="750" width="1" height="3" fill="#000"/>
<rect x="387" y="750" width="1" height="3" fill="#000"/>
<rect x="451" y="750" width="1" height="3" fill="#000"/>
<rect x="515" y="750" width="1" height="3" fill="#000"/>
<rect x="579" y="750" width="1" height="3" fill="#000"/>
<rect x="643" y="750" width="1" height="3" fill="#000"/>
<rect x="707" y="750" width="1" height="3" fill="#000"/>
<rect x="771" y="750" width="1" height="3" fill="#000"/>
<rect x="835" y="750" width="1" height="3" fill="#000"/>
<rect x="899" y="750" width="1" height="3" fill="#000"/>
<rect x="963" y="750" width="1" height="3" fill="#000"/>
<rect x="1027" y="750" width="1" height="3" fill="#000"/>
<rect x="1091" y="750" width="1" height="3" fill="#000"/>
<rect x="1155" y="750" width="1" height="3" fill="#000"/>
<rect x="1219" y="750" width="1" height="3" fill="#000"/>
<rect x="0" y="770" width="1621" height="1" fill="#e3e3e3"/>
<rect x="0" y="772" width="1621" height="1" fill="#000"/>
<rect x="0" y="774" width="1621" height="18" fill="#f0f0f0"/>
<rect x="209" y="772" width="102" height="18" fill="#fff"/>
<rect x="208" y="772" width="1" height="19" fill="#000"/><rect x="311" y="772" width="1" height="19" fill="#000"/><rect x="208" y="790" width="104" height="1" fill="#000"/>
<rect x="312" y="774" width="1" height="18" fill="#a0a0a0"/><rect x="209" y="791" width="104" height="1" fill="#a0a0a0"/>
<rect x="108" y="775" width="1" height="14" fill="#808080"/>
<rect x="416" y="775" width="1" height="14" fill="#808080"/>
<rect x="520" y="775" width="1" height="14" fill="#808080"/>
<rect x="624" y="775" width="1" height="14" fill="#808080"/>
<rect x="716" y="775" width="1" height="14" fill="#808080"/>
<rect x="808" y="775" width="1" height="14" fill="#808080"/>
<rect x="880" y="775" width="1" height="14" fill="#808080"/>
<rect x="960" y="775" width="1" height="14" fill="#808080"/>
<rect x="1040" y="775" width="1" height="14" fill="#808080"/>
<rect x="1120" y="775" width="1" height="14" fill="#808080"/>
<rect x="1196" y="775" width="1" height="14" fill="#808080"/>
<rect x="1280" y="775" width="1" height="14" fill="#808080"/>
<rect x="1364" y="775" width="1" height="14" fill="#808080"/>
<rect x="1444" y="775" width="1" height="14" fill="#808080"/>
<rect x="1544" y="775" width="1" height="14" fill="#808080"/>
<path d="M1598.3 778 L1598.3 784.4 L1594.8 781.2 Z" fill="#a0a0a0" shape-rendering="auto"/><path d="M1613.6 777.4 L1613.6 785.4 L1617.6 781.4 Z" fill="#000" shape-rendering="auto"/>
<rect x="6" y="33" width="7" height="1" fill="#000"/><rect x="7" y="34" width="5" height="1" fill="#000"/><rect x="8" y="35" width="3" height="1" fill="#000"/><rect x="9" y="36" width="1" height="1" fill="#000"/>
</svg>
<span class="tb" style="left:42px;top:7px;">M1</span>
<span class="tb" style="left:70px;top:7px;">M5</span>
<span class="tb" style="left:96px;top:7px;">M15</span>
<span class="tb" style="left:124px;top:7px;">M30</span>
<span class="tb" style="left:155px;top:7px;">H1</span>
<span class="tb" style="left:182px;top:7px;">H4</span>
<span class="tb" style="left:211px;top:7px;">D1</span>
<span class="tb" style="left:239px;top:7px;">W1</span>
<span class="tb" style="left:265px;top:7px;">MN</span>
<span class="ct" style="left:19px;top:30px;transform:scaleX(.957)">AUDUSD,Daily</span>
<span class="ct" style="left:89.5px;top:30px;">0.77992 0.78106 0.76881 0.76881</span>
<span class="ct" style="left:6.5px;top:560px;transform:scaleX(.945)">RSI(14) 42.4872</span>
<span class="ct" style="left:6.3px;top:658px;transform:scaleX(.945)">MACD(12,26,9) 0.001381 0.003771</span>
<span class="ax" style="left:1585px;top:84px;">0.79320</span>
<span class="ax" style="left:1585px;top:117px;">0.78620</span>
<span class="ax" style="left:1585px;top:150px;">0.77940</span>
<span class="ax" style="left:1585px;top:183px;">0.77240</span>
<span class="ax" style="left:1585px;top:216px;">0.76560</span>
<span class="ax" style="left:1585px;top:249px;">0.75880</span>
<span class="ax" style="left:1585px;top:282px;">0.75180</span>
<span class="ax" style="left:1585px;top:315px;">0.74500</span>
<span class="ax" style="left:1585px;top:348px;">0.73820</span>
<span class="ax" style="left:1585px;top:381px;">0.73120</span>
<span class="ax" style="left:1585px;top:414px;">0.72440</span>
<span class="ax" style="left:1585px;top:447px;">0.71760</span>
<span class="ax" style="left:1585px;top:480px;">0.71060</span>
<span class="ax" style="left:1585px;top:513px;">0.70380</span>
<span class="ax" style="left:1585px;top:546px;">0.69700</span>
<div class="lb" style="top:200px;background:#000"><span class="ax" style="left:4px;top:1px;color:#fff">0.76881</span></div>
<div class="lb" style="top:48px;background:#ff0000"><span class="ax" style="left:4px;top:1px;color:#fff">0.80009</span></div>
<div class="lb" style="top:96px;background:#ff0000"><span class="ax" style="left:4px;top:1px;color:#fff">0.79012</span></div>
<div class="lb" style="top:144px;background:#00ff00"><span class="ax" style="left:4px;top:1px;color:#fff">0.78014</span></div>
<div class="lb" style="top:202px;background:#0000ff"><span class="ax" style="left:4px;top:1px;color:#fff">0.76809</span></div>
<div class="lb" style="top:259px;background:#0000ff"><span class="ax" style="left:4px;top:1px;color:#fff">0.75624</span></div>
<span class="ax" style="left:1583px;top:558px;">100</span>
<span class="ax" style="left:1583px;top:581px;">70</span>
<span class="ax" style="left:1583px;top:618px;">30</span>
<span class="ax" style="left:1583px;top:640px;">0</span>
<span class="ax" style="left:1583px;top:656px;">0.00884</span>
<span class="ax" style="left:1583px;top:709px;">0.00</span>
<span class="ax" style="left:1583px;top:738px;">-0.005651</span>
<span class="ax" style="left:2px;top:754px;">3 Sep 2020</span>
<span class="ax" style="left:66px;top:754px;">12 Sep 2020</span>
<span class="ax" style="left:130px;top:754px;">22 Sep 2020</span>
<span class="ax" style="left:194px;top:754px;">1 Oct 2020</span>
<span class="ax" style="left:258px;top:754px;">10 Oct 2020</span>
<span class="ax" style="left:322px;top:754px;">20 Oct 2020</span>
<span class="ax" style="left:386px;top:754px;">29 Oct 2020</span>
<span class="ax" style="left:450px;top:754px;">7 Nov 2020</span>
<span class="ax" style="left:514px;top:754px;">17 Nov 2020</span>
<span class="ax" style="left:578px;top:754px;">26 Nov 2020</span>
<span class="ax" style="left:642px;top:754px;">5 Dec 2020</span>
<span class="ax" style="left:706px;top:754px;">15 Dec 2020</span>
<span class="ax" style="left:770px;top:754px;">24 Dec 2020</span>
<span class="ax" style="left:834px;top:754px;">5 Jan 2021</span>
<span class="ax" style="left:898px;top:754px;">14 Jan 2021</span>
<span class="ax" style="left:962px;top:754px;">23 Jan 2021</span>
<span class="ax" style="left:1026px;top:754px;">2 Feb 2021</span>
<span class="ax" style="left:1090px;top:754px;">11 Feb 2021</span>
<span class="ax" style="left:1154px;top:754px;">20 Feb 2021</span>
<span class="ax" style="left:1218px;top:754px;">2 Mar 2021</span>
<span class="tab" style="left:16px;top:776px;letter-spacing:0px">EURUSD,Daily</span>
<span class="tab" style="left:118px;top:776px;letter-spacing:0.1px">USDCHF,Daily</span>
<span class="tab act" style="left:219px;top:776px;letter-spacing:0.17px">AUDUSD,Daily</span>
<span class="tab" style="left:323px;top:776px;letter-spacing:0.12px">USDCAD,Daily</span>
<span class="tab" style="left:426.5px;top:776px;letter-spacing:0.25px">USDCNH,Daily</span>
<span class="tab" style="left:531.5px;top:776px;letter-spacing:0.05px">EURUSD,Daily</span>
<span class="tab" style="left:636px;top:776px;letter-spacing:0px">GBPUSD,H4</span>
<span class="tab" style="left:727px;top:776px;letter-spacing:0.15px">XAUUSD,H1</span>
<span class="tab" style="left:819px;top:776px;letter-spacing:0.45px">HK50,H1</span>
<span class="tab" style="left:891.5px;top:776px;letter-spacing:0.3px">UK100,H1</span>
<span class="tab" style="left:971.5px;top:776px;letter-spacing:0.3px">UK100,H1</span>
<span class="tab" style="left:1052px;top:776px;letter-spacing:-0.05px">GER30,H1</span>
<span class="tab" style="left:1130px;top:776px;letter-spacing:0px">FRA40,H1</span>
<span class="tab" style="left:1206px;top:776px;letter-spacing:0.3px">USOil,Daily</span>
<span class="tab" style="left:1290px;top:776px;letter-spacing:0px">USDJPY,H1</span>
<span class="tab" style="left:1374px;top:776px;letter-spacing:0.2px">DJ30,Daily</span>
<span class="tab" style="left:1453px;top:776px;letter-spacing:0.4px">CHINA300,H1</span>
<span class="tab" style="left:1553px;top:776px;letter-spacing:0.35px">USOil,</span>
</body></html>
